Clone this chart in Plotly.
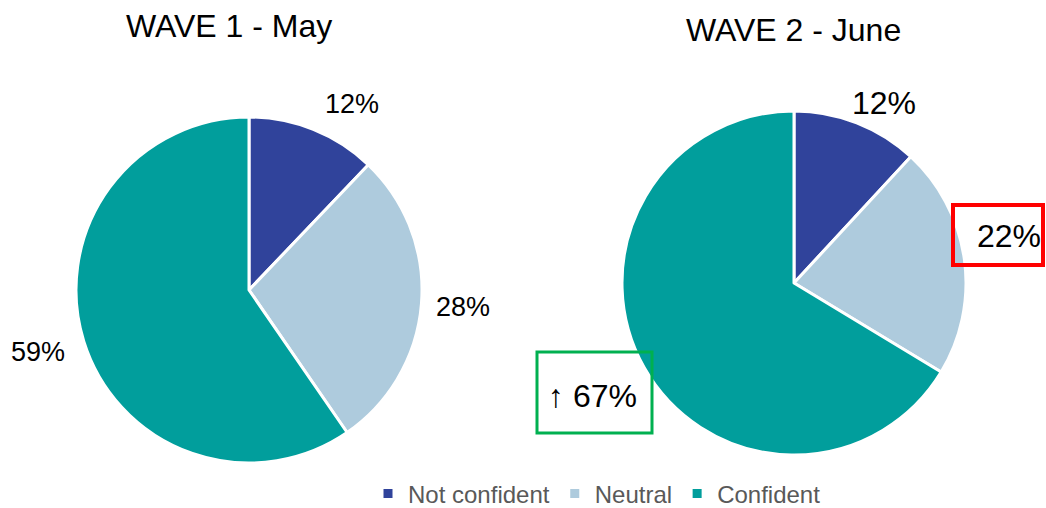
import plotly.graph_objects as go

W, H = 1046, 508

categories = ["Not confident", "Neutral", "Confident"]
wave1_values = [12, 28, 59]
wave2_values = [12, 22, 67]
titles = ["WAVE 1 - May", "WAVE 2 - June"]
colors = ["#30439B", "#AECBDD", "#019E9C"]

def px(x):
    return x / W

def py(y):
    return 1 - y / H

fig = go.Figure()

dom1 = dict(x=[px(76), px(422)], y=[py(463), py(117)])
dom2 = dict(x=[px(622), px(966)], y=[py(455), py(111)])

for vals, dom, show in [(wave1_values, dom1, True), (wave2_values, dom2, False)]:
    fig.add_trace(go.Pie(
        labels=categories, values=vals, sort=False, direction="clockwise",
        rotation=0, domain=dom, textinfo="none", showlegend=show,
        marker=dict(colors=colors, line=dict(color="white", width=3)),
        hoverinfo="label+percent",
    ))

font_family = "Liberation Sans, Arial, sans-serif"

def label(x, y, text, size):
    fig.add_annotation(x=px(x), y=py(y), text=text, showarrow=False,
                       xref="paper", yref="paper", xanchor="center", yanchor="middle",
                       font=dict(size=size, color="black", family=font_family))

label(229, 26, titles[0], 32)
label(793, 30, titles[1], 32)

w1_pos = [(352, 104), (463, 307), (38, 352)]
for v, (x, y) in zip(wave1_values, w1_pos):
    label(x, y, f"{v}%", 27)

w2_pos = [(884, 103), (1009, 236), (592, 396)]
w2_prefix = ["", "", "↑ "]
for v, (x, y), pre in zip(wave2_values, w2_pos, w2_prefix):
    label(x, y, f"{pre}{v}%", 32)

fig.add_shape(type="rect", xref="paper", yref="paper",
              x0=px(953), x1=px(1043), y0=py(265), y1=py(205),
              line=dict(color="#FF0000", width=4))
fig.add_shape(type="rect", xref="paper", yref="paper",
              x0=px(537), x1=px(652), y0=py(433), y1=py(352),
              line=dict(color="#00B050", width=3))

fig.update_layout(
    width=W, height=H,
    margin=dict(l=0, r=0, t=0, b=0, autoexpand=False),
    paper_bgcolor="white", plot_bgcolor="white",
    font=dict(family=font_family),
    legend=dict(orientation="h", x=px(597), xanchor="center", y=py(494), yanchor="middle",
                font=dict(size=24, color="#595959", family=font_family),
                itemwidth=30, tracegroupgap=0, borderwidth=0),
)

fig.write_html(
    "out.html",
    config={"displayModeBar": False},
    post_script="document.body.style.margin='0px';document.documentElement.style.overflow='hidden';",
)
